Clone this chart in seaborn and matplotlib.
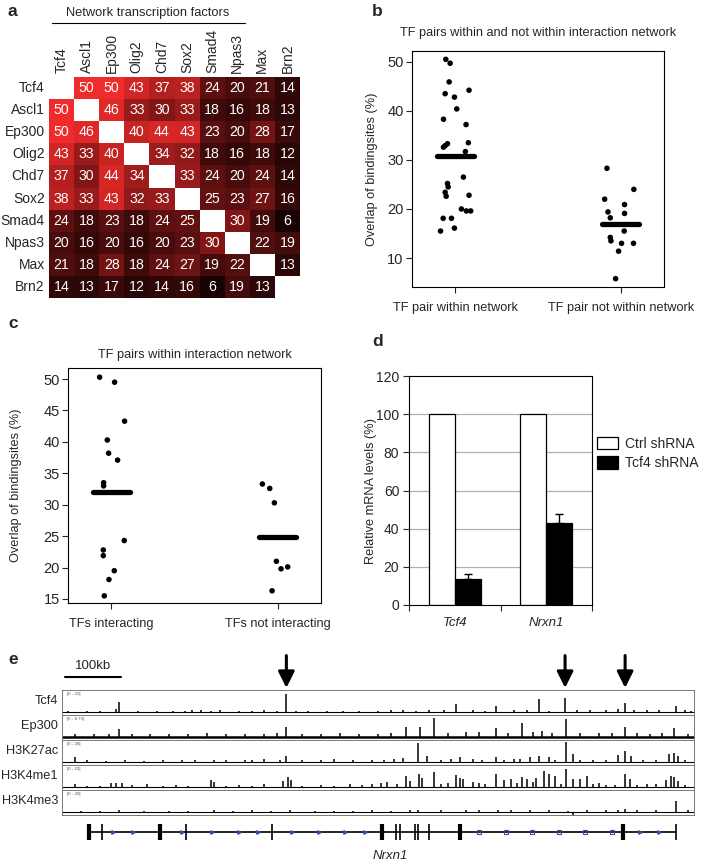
import numpy as np
import pandas as pd
import matplotlib
matplotlib.use('Agg')
import matplotlib.pyplot as plt
import seaborn as sns
from matplotlib.colors import LinearSegmentedColormap
from matplotlib.lines import Line2D
from matplotlib.patches import Patch

# ---------------- data ----------------
tfs = ['Tcf4', 'Ascl1', 'Ep300', 'Olig2', 'Chd7', 'Sox2', 'Smad4', 'Npas3', 'Max', 'Brn2']
overlap = [
    [None, 50, 50, 43, 37, 38, 24, 20, 21, 14],
    [50, None, 46, 33, 30, 33, 18, 16, 18, 13],
    [50, 46, None, 40, 44, 43, 23, 20, 28, 17],
    [43, 33, 40, None, 34, 32, 18, 16, 18, 12],
    [37, 30, 44, 34, None, 33, 24, 20, 24, 14],
    [38, 33, 43, 32, 33, None, 25, 23, 27, 16],
    [24, 18, 23, 18, 24, 25, None, 30, 19, 6],
    [20, 16, 20, 16, 20, 23, 30, None, 22, 19],
    [21, 18, 28, 18, 24, 27, 19, 22, None, 13],
    [14, 13, 17, 12, 14, 16, 6, 19, 13, None],
]

b_cats = ['TF pair within network', 'TF pair not within network']
b_within = [50.5, 49.7, 45.9, 43.5, 44.2, 42.8, 40.4, 38.3, 37.2, 32.6, 32.9, 33.3, 33.5, 31.7,
            26.5, 25.2, 24.5, 23.4, 22.6, 22.8, 20.0, 19.6, 19.6, 18.1, 18.1, 15.5, 16.1]
b_within_jit = [-0.056, -0.03, -0.036, -0.06, 0.084, -0.004, 0.01, -0.07, 0.066, -0.07, -0.06, -0.046,
                0.08, 0.062, 0.05, -0.046, -0.042, -0.06, -0.054, 0.084, 0.038, 0.068, 0.094,
                -0.072, -0.022, -0.088, -0.004]
b_not = [28.3, 24.0, 22.0, 20.9, 19.4, 18.2, 19.1, 15.5, 14.2, 13.5, 13.0, 13.0, 11.4, 5.8]
b_not_jit = [-0.084, 0.078, -0.098, 0.022, -0.078, -0.064, 0.022, 0.02, -0.064, -0.06, 0.004,
             0.076, -0.014, -0.032]
b_center = [30.7, 17.0]

c_cats = ['TFs interacting', 'TFs not interacting']
c_int = [50.3, 49.5, 43.3, 40.3, 38.2, 37.1, 33.5, 33.0, 24.3, 22.8, 21.9, 19.5, 18.1, 15.5]
c_int_jit = [-0.07, 0.02, 0.08, -0.024, -0.016, 0.038, -0.046, -0.046, 0.078, -0.048, -0.048,
             0.018, -0.014, -0.042]
c_not = [33.3, 32.6, 30.3, 21.0, 19.8, 20.1, 16.3]
c_not_jit = [-0.092, -0.048, -0.02, -0.008, 0.02, 0.06, -0.034]
c_center = [32.0, 24.8]

d_genes = ['Tcf4', 'Nrxn1']
d_conditions = ['Ctrl shRNA', 'Tcf4 shRNA']
d_ctrl = [100, 100]
d_kd = [13.5, 43.2]
d_kd_err = [2.5, 4.5]

track_names = ['Tcf4', 'Ep300', 'H3K27ac', 'H3K4me1', 'H3K4me3']
track_ranges = ['[0 - 22]', '[0 - 8.73]', '[0 - 20]', '[0 - 23]', '[0 - 20]']
track_max = [22, 8.73, 20, 23, 20]

tcf4_pos = [90, 355, 624, 686, 754, 796, 891, 971, 85, 10, 40, 60, 120, 150, 175, 195, 205, 220, 235,
            250, 280, 300, 320, 340, 370, 390, 420, 445, 470, 500, 520, 540, 560, 580, 605, 650, 670,
            715, 735, 770, 815, 835, 860, 880, 905, 925, 945, 985, 995]
tcf4_val = [9.5, 18, 8, 6, 12.5, 14, 8.5, 5.5, 2.5, 0.8, 0.7, 0.9, 0.8, 1, 0.9, 1.2, 1.3, 1.5, 1.2,
            1.4, 1.2, 0.9, 1.3, 1, 1.2, 1.1, 1, 0.9, 1.2, 1.0, 1.3, 1.4, 1.2, 1.5, 2, 1.3, 1.2,
            1.5, 1.8, 1.2, 1.5, 1.3, 1.4, 2.5, 1.6, 1.4, 1.3, 1.6, 1]

ep300_pos = [90, 355, 544, 566, 588, 686, 728, 798, 891, 969, 20, 50, 75, 110, 140, 170, 200, 230,
             260, 290, 320, 340, 380, 410, 440, 470, 500, 520, 610, 640, 660, 705, 745, 760, 775,
             820, 850, 870, 910, 930, 950, 990]
ep300_val = [3, 4, 3.8, 3.8, 7.5, 3.5, 5.5, 7, 4, 3.5, 1.2, 1, 1.3, 1.2, 1.1, 1.3, 1.2, 1.4,
             1.1, 1.3, 1.2, 1.5, 1.3, 1.2, 1.4, 1.1, 1.3, 1.5, 1.6, 1.8, 2, 1.7, 1.9, 2.2, 1.6,
             1.5, 1.6, 1.5, 1.4, 1.3, 1.5, 1.2]

k27_pos = [20, 355, 540, 564, 578, 630, 686, 740, 755, 770, 798, 808, 880, 891, 900, 960, 968, 975,
           40, 70, 100, 130, 160, 190, 210, 240, 260, 290, 300, 320, 345, 380, 410, 430, 460, 490,
           510, 525, 600, 615, 650, 665, 700, 715, 725, 780, 820, 840, 860, 920, 940, 985]
k27_val = [4, 5, 3, 17, 5, 4, 4, 4.5, 5.5, 4, 18, 7, 6, 9.5, 5, 7, 8, 5,
           1.2, 1, 1.2, 1, 1.3, 1.5, 1.3, 1.2, 1.4, 1.6, 1.5, 2.2, 1.4, 1.5, 1.3, 2.2, 1.3, 1.5,
           1.8, 2.5, 2, 2.5, 2.5, 2, 1.8, 2.5, 2.2, 2, 1.5, 1.5, 1.8, 1.6, 1.5, 1.3]

k4me1_pos = [20, 77, 85, 95, 135, 235, 240, 320, 350, 358, 362, 455, 505, 515, 545, 550, 565, 570,
             588, 624, 630, 635, 650, 686, 700, 710, 728, 735, 750, 763, 770, 780, 798, 808, 820,
             830, 850, 891, 898, 955, 963, 969, 975, 40, 60, 110, 160, 180, 200, 260, 280, 300,
             380, 410, 430, 475, 490, 530, 600, 610, 660, 670, 720, 745, 790, 840, 860, 875, 910,
             925, 940, 985]
k4me1_val = [2.5, 3.5, 3.5, 4, 3, 7.5, 5, 3, 6, 10, 7, 3, 3.5, 5, 11, 6, 14, 9,
             16, 12.5, 9, 8, 5, 14, 7, 8, 10, 8, 9, 17, 13, 11, 19, 8, 8,
             11, 4, 14, 8, 7, 11, 10, 6, 1, 1.2, 1.5, 1.2, 1.5, 1.3, 1.3, 1.5, 1.2,
             1.3, 1.5, 1.3, 2, 2.5, 2.5, 3, 3.5, 4, 3, 4, 4.5, 3, 2.5, 2, 2, 2,
             2.5, 2.5, 1.8]

k4me3_pos = [971, 891, 564, 808, 30, 60, 90, 130, 170, 200, 240, 270, 300, 330, 360, 400, 430, 460,
             490, 520, 550, 600, 640, 660, 690, 710, 740, 770, 800, 830, 860, 880, 910, 940, 990]
k4me3_val = [10, 2.5, 2, -3, 1, 0.8, 1.2, 1, 1.1, 1, 1.3, 0.9, 1.4, 1.1, 1.2, 1.0, 1.1, 0.9,
             1.2, 1, 1.5, 1.3, 1.5, 1.3, 1.6, 1.5, 1.4, 1.2, 1.0, 1.3, 1.2, 1.8, 1.4, 1.3, 1.2]

track_pos = [tcf4_pos, ep300_pos, k27_pos, k4me1_pos, k4me3_pos]
track_val = [tcf4_val, ep300_val, k27_val, k4me1_val, k4me3_val]

arrow_pos = [355, 796, 891]
scale_bar = [4, 93]
scale_label = '100kb'
gene_span = [42, 971]
exon_pos = [42, 64, 155, 196, 332, 507, 529, 535, 558, 563, 580, 630, 887, 971]
exon_thick = [1, 0, 1, 0, 0, 1, 0, 0, 0, 0, 0, 1, 1, 0]
strand_pos = [80, 112, 190, 238, 280, 310, 364, 406, 448, 480]
square_pos = [660, 702, 744, 786, 828, 870]
strand2_pos = [915, 945]
gene_name = 'Nrxn1'

# ---------------- figure ----------------
sns.set_theme(style='white')
plt.rcParams['font.family'] = ['Liberation Sans', 'DejaVu Sans']
plt.rcParams['axes.linewidth'] = 0.8

W, H = 725, 865
fig = plt.figure(figsize=(W / 100, H / 100), dpi=100)


def box(x0, y0, x1, y1):
    return [x0 / W, 1 - y1 / H, (x1 - x0) / W, (y1 - y0) / H]


def ftext(x, y, s, **kw):
    fig.text(x / W, 1 - y / H, s, **kw)


# panel letters
for lab, (x, y) in zip('abcde', [(8, 12), (372, 12), (8, 324), (372, 342), (8, 659)]):
    ftext(x, y, lab, fontsize=12.5, fontweight='bold', ha='left', va='center')

# ---------------- panel a ----------------
cmap_a = LinearSegmentedColormap.from_list(
    'blackred', ['#140303', '#360808', '#701313', '#c02222', '#f02b2b'])
ax_a = fig.add_axes(box(49, 77, 300, 298))
df_a = pd.DataFrame(np.array(overlap, dtype=float), index=tfs, columns=tfs)
sns.heatmap(df_a, ax=ax_a, cmap=cmap_a, vmin=5, vmax=50, annot=True, fmt='.0f',
            annot_kws={'color': 'white', 'fontsize': 10.2}, cbar=False, linewidths=0)
ax_a.xaxis.tick_top()
ax_a.set_xticklabels(tfs, rotation=90, fontsize=10)
ax_a.set_yticklabels(tfs, rotation=0, fontsize=10)
ax_a.tick_params(length=0, pad=3)
ax_a.set_xlabel('')
ax_a.set_ylabel('')
ftext(148, 13, 'Network transcription factors', fontsize=9.3, ha='center', va='center')
fig.add_artist(Line2D([52 / W, 245 / W], [1 - 23 / H, 1 - 23 / H], color='black', lw=0.8))


def strip_panel(ax, cats, groups, jits, centers, ylim, yticks, title, title_xy, ylab_x):
    xs, ys = [], []
    for i, (g, j) in enumerate(zip(groups, jits)):
        xs += [i + d for d in j]
        ys += list(g)
    df = pd.DataFrame({'x': xs, 'y': ys})
    sns.scatterplot(data=df, x='x', y='y', ax=ax, color='black', s=16, edgecolor='none', legend=False)
    for i, m in enumerate(centers):
        ax.plot([i - 0.112, i + 0.112], [m, m], color='black', lw=3.8, solid_capstyle='round')
    ax.set_xlim(-0.26, 1.26)
    ax.set_ylim(*ylim)
    ax.set_xticks([0, 1])
    ax.set_xticklabels(cats, fontsize=9.2)
    ax.set_yticks(yticks)
    ax.tick_params(axis='y', labelsize=10.5, length=4, width=0.8, direction='out', left=True, pad=2)
    ax.tick_params(axis='x', length=4, width=0.8, direction='out', bottom=True, pad=7)
    for s in ax.spines.values():
        s.set_visible(True)
        s.set_color('black')
        s.set_linewidth(0.8)
    ax.set_xlabel('')
    ax.set_ylabel('Overlap of bindingsites (%)', fontsize=9.2)
    ax.yaxis.set_label_coords(ylab_x, 0.5)
    ftext(title_xy[0], title_xy[1], title, fontsize=9.2, ha='center', va='center')


# ---------------- panel b ----------------
ax_b = fig.add_axes(box(412, 51, 664, 287))
strip_panel(ax_b, b_cats, [b_within, b_not], [b_within_jit, b_not_jit], b_center,
            (4.1, 52.2), [10, 20, 30, 40, 50],
            'TF pairs within and not within interaction network', (538, 33), -0.135)

# ---------------- panel c ----------------
ax_c = fig.add_axes(box(68, 368, 321, 603))
strip_panel(ax_c, c_cats, [c_int, c_not], [c_int_jit, c_not_jit], c_center,
            (14.36, 51.76), [15, 20, 25, 30, 35, 40, 45, 50],
            'TF pairs within interaction network', (195, 355), -0.18)

# ---------------- panel d ----------------
ax_d = fig.add_axes(box(409, 376, 592, 605))
df_d = pd.DataFrame({
    'gene': d_genes * 2,
    'condition': [d_conditions[0]] * 2 + [d_conditions[1]] * 2,
    'value': d_ctrl + d_kd,
})
ax_d.set_axisbelow(True)
for yv in [20, 40, 60, 80, 100]:
    ax_d.axhline(yv, color='#b0b0b0', lw=0.9, zorder=0)
sns.barplot(data=df_d, x='gene', y='value', hue='condition', order=d_genes, hue_order=d_conditions,
            palette=['white', 'black'], edgecolor='black', linewidth=0.9, width=0.57,
            ax=ax_d, legend=False, zorder=2)
kd_bars = ax_d.containers[1]
kd_x = [p.get_x() + p.get_width() / 2 for p in kd_bars]
ax_d.errorbar(kd_x, d_kd, yerr=[[0] * len(d_kd), d_kd_err], fmt='none', ecolor='black',
              elinewidth=1, capsize=3, capthick=1, zorder=3)
ax_d.set_xlim(-0.5, 1.5)
ax_d.set_ylim(0, 120)
ax_d.set_yticks([0, 20, 40, 60, 80, 100, 120])
ax_d.tick_params(axis='y', labelsize=10, length=4, width=0.8, direction='out', left=True, pad=3)
ax_d.set_xticks([0, 1])
ax_d.set_xticklabels(d_genes, fontsize=9.5, fontstyle='italic')
ax_d.set_xticks([-0.5, 0.5, 1.5], minor=True)
ax_d.tick_params(axis='x', which='major', length=0, pad=9)
ax_d.tick_params(axis='x', which='minor', length=4, width=0.8, direction='out', bottom=True)
for s in ax_d.spines.values():
    s.set_visible(True)
    s.set_color('black')
    s.set_linewidth(0.8)
ax_d.set_xlabel('')
ax_d.set_ylabel('Relative mRNA levels (%)', fontsize=9.2)
ax_d.yaxis.set_label_coords(-0.175, 0.5)
handles = [Patch(facecolor='white', edgecolor='black', lw=0.9),
           Patch(facecolor='black', edgecolor='black', lw=0.9)]
ax_d.legend(handles, d_conditions, loc='upper left', bbox_to_anchor=(1.03, 0.735), frameon=False,
            fontsize=10, handlelength=1.5, handleheight=1.0, handletextpad=0.5, labelspacing=0.4,
            borderaxespad=0, borderpad=0)

# ---------------- panel e ----------------
ex0, ex1 = 62, 694
ax_top = fig.add_axes(box(ex0, 648, ex1, 690))
ax_top.set_xlim(0, 1000)
ax_top.set_ylim(0, 1)
ax_top.axis('off')
for p in arrow_pos:
    ax_top.annotate('', xy=(p, 0.05), xytext=(p, 0.82),
                    arrowprops=dict(arrowstyle='-|>,head_width=0.35,head_length=0.7', lw=2.2,
                                    color='black', mutation_scale=14, shrinkA=0, shrinkB=0))
ax_top.plot(scale_bar, [0.31, 0.31], color='black', lw=1.5)
ax_top.text(np.mean(scale_bar), 0.42, scale_label, ha='center', va='bottom', fontsize=9.5)

tr_top, tr_h = 690, 25
for k, name in enumerate(track_names):
    y0 = tr_top + k * tr_h
    ax_t = fig.add_axes(box(ex0, y0, ex1, y0 + tr_h))
    R = track_max[k]
    ax_t.set_xlim(0, 1000)
    ax_t.set_ylim(-0.15 * R, R)
    lw_base = 1.8 if name == 'Ep300' else 0.8
    ax_t.axhline(0, color='black', lw=lw_base, zorder=1)
    ax_t.vlines(track_pos[k], 0, track_val[k], color='black', lw=1.1, zorder=2)
    ax_t.set_xticks([])
    ax_t.set_yticks([])
    for s in ax_t.spines.values():
        s.set_visible(True)
        s.set_color('#777777')
        s.set_linewidth(0.7)
    ax_t.text(0.008, 0.93, track_ranges[k], transform=ax_t.transAxes, fontsize=3.2,
              color='#555555', ha='left', va='top')
    ftext(ex0 - 4, y0 + tr_h * 0.45, name, fontsize=9.2, ha='right', va='center')

ax_g = fig.add_axes(box(ex0, 818, ex1, 846))
ax_g.set_xlim(0, 1000)
ax_g.set_ylim(-1, 1)
ax_g.axis('off')
ax_g.plot(gene_span, [0, 0], color='black', lw=1.2, zorder=1)
for p, t in zip(exon_pos, exon_thick):
    ax_g.vlines(p, -0.55, 0.55, color='black', lw=3.0 if t else 1.2, zorder=3)
ax_g.plot(strand_pos + strand2_pos, [0] * (len(strand_pos) + len(strand2_pos)), linestyle='none',
          marker='>', markersize=2.5, color='#3050b0', zorder=2)
ax_g.plot(square_pos, [0] * len(square_pos), linestyle='none', marker='s', markersize=2.5,
          markerfacecolor='none', markeredgecolor='#3050b0', markeredgewidth=0.8, zorder=2)
ftext(ex0 + (ex1 - ex0) * 0.52, 856, gene_name, fontsize=9.5, fontstyle='italic', ha='center', va='center')

fig.savefig('out.png', dpi=100, facecolor='white')
